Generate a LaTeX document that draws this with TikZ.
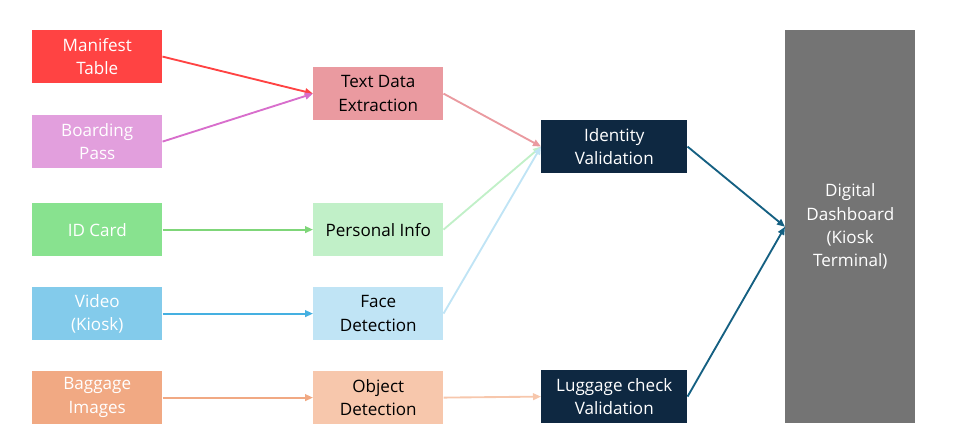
\documentclass[tikz,border=0pt]{standalone}
\usepackage{fontspec}
\setmainfont{Open Sans}
\usetikzlibrary{arrows.meta}
\definecolor{cManifest}{HTML}{FF4343}
\definecolor{cBoarding}{HTML}{E29FDD}
\definecolor{cID}{HTML}{88E28F}
\definecolor{cVideo}{HTML}{83CBEB}
\definecolor{cBaggage}{HTML}{F1A983}
\definecolor{cText}{HTML}{EA9AA0}
\definecolor{cPersonal}{HTML}{C1F0C8}
\definecolor{cFace}{HTML}{C0E4F5}
\definecolor{cObject}{HTML}{F7C7AC}
\definecolor{cDark}{HTML}{0E2841}
\definecolor{cDash}{HTML}{747474}
\definecolor{aBoarding}{HTML}{D86ECC}
\definecolor{aID}{HTML}{7FD679}
\definecolor{aVideo}{HTML}{45B0E1}
\definecolor{aDark}{HTML}{156082}
\begin{document}
\begin{tikzpicture}[x=0.75pt,y=-0.75pt,
  box/.style={rectangle,inner sep=0pt,align=center,font=\fontsize{12.8}{17.5}\selectfont,
    minimum width=97.5pt,minimum height=39.5pt,anchor=north west},
  wbox/.style={box,text=white},
  kbox/.style={box,text=black},
  dbox/.style={box,text=white,fill=cDark,minimum width=109.5pt},
  conn/.style={line width=1.4pt,-{Triangle[length=6pt,width=5pt]}}]
\useasboundingbox (0,0) rectangle (972,446);
\node[wbox,fill=cManifest] (manifest) at (32,30) {Manifest\\Table};
\node[wbox,fill=cBoarding] (boarding) at (32,115) {Boarding\\Pass};
\node[wbox,fill=cID] (idcard) at (32,203) {ID Card};
\node[wbox,fill=cVideo] (video) at (32,287) {Video\\(Kiosk)};
\node[wbox,fill=cBaggage] (baggage) at (32,371) {Baggage\\Images};
\node[kbox,fill=cText] (text) at (313,67) {Text Data\\Extraction};
\node[kbox,fill=cPersonal] (personal) at (313,203) {Personal Info};
\node[kbox,fill=cFace] (face) at (313,287) {Face\\Detection};
\node[kbox,fill=cObject] (object) at (313,371) {Object\\Detection};
\node[dbox] (identity) at (541,120) {Identity\\Validation};
\node[dbox] (luggage) at (541,370) {Luggage check\\Validation};
\node[box,text=white,fill=cDash,minimum height=294.75pt] (dash) at (785,30) {Digital\\Dashboard\\(Kiosk\\Terminal)};
\draw[conn,cManifest] (manifest.east) -- (text.west);
\draw[conn,aBoarding] (boarding.east) -- (text.west);
\draw[conn,aID] (idcard.east) -- (personal.west);
\draw[conn,aVideo] (video.east) -- (face.west);
\draw[conn,cBaggage] (baggage.east) -- (object.west);
\draw[conn,cText] (text.east) -- (identity.west);
\draw[conn,cPersonal] (personal.east) -- (identity.west);
\draw[conn,cFace] (face.east) -- (identity.west);
\draw[conn,cObject] (object.east) -- (luggage.west);
\draw[conn,aDark] (identity.east) -- (dash.west);
\draw[conn,aDark] (luggage.east) -- (dash.west);
\end{tikzpicture}
\end{document}
